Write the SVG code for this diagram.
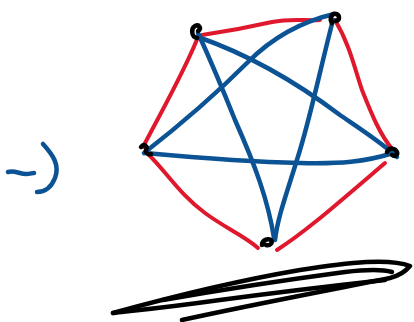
<svg xmlns="http://www.w3.org/2000/svg" width="414" height="322" viewBox="0 0 414 322">
<style>
.r{fill:none;stroke:#e0182d;stroke-width:4;stroke-linecap:round;stroke-linejoin:round}
.b{fill:none;stroke:#0b5394;stroke-width:4.5;stroke-linecap:round;stroke-linejoin:round}
.k{fill:none;stroke:#000;stroke-width:4.5;stroke-linecap:round;stroke-linejoin:round}
</style>
<rect width="414" height="322" fill="#fff"/>
<g id="connectors">
<path class="r" d="M202,35 C230,31 250,27 272,22 C292,18 306,21 320,20"/>
<path class="r" d="M198,37 C185,70 165,105 143,147"/>
<path class="r" d="M147,153 C165,170 180,195 205,213 C225,228 245,236 258,248"/>
<path class="r" d="M277,250 C305,232 330,210 385,163"/>
<path class="r" d="M335,20 C350,45 355,70 362,90 C372,115 380,135 393,150"/>
<path class="b" d="M198,33 C215,70 225,95 235,120 C255,165 268,200 274,238"/>
<path class="b" d="M198,37 C250,55 300,85 340,115 C365,132 385,145 397,157"/>
<path class="b" d="M334,14 C300,22 270,40 248,62 C215,95 180,125 144,153"/>
<path class="b" d="M333,20 C320,70 312,110 300,150 C288,190 278,215 275,240"/>
<path class="b" d="M145,153 C200,158 250,162 300,163 C340,164 365,162 393,153"/>
</g>
<g id="n1"><path class="k" d="M197,38 C191,37 191,28 195,26 C199,24 202,28 198,31"/></g>
<g id="n2"><path class="k" d="M332,23 C329,18 332,13 336,14 C340,15 340,20 336,21"/></g>
<g id="n3"><path class="k" d="M141,147 C144,143 148,146 146,150 C145,153 149,155 151,154"/></g>
<g id="n4"><path class="k" d="M387,152 C390,147 395,148 397,152 C398,155 395,157 392,155"/></g>
<g id="n5"><path class="k" d="M262,245 C262,240 268,238 271,240 C273,243 270,246 266,245"/></g>
<g id="squiggle">
<path class="b" d="M8,172 C14,170 20,174 26,174 C30,174 32,173 34,173"/>
<path class="b" d="M43,144 C53,155 60,165 55,178 C51,188 44,192 37,192"/>
</g>
<g id="scribble">
<path class="k" d="M113,313 C160,300 230,282 300,270 C350,262 390,258 410,266 C405,272 398,276 390,278 C330,290 250,305 182,320"/>
<path class="k" d="M113,313 C140,310 170,307 220,300 C280,292 340,285 385,280"/>
<path class="k" d="M163,300 C220,290 300,278 345,272 C370,269 385,270 392,272"/>
</g>
</svg>
